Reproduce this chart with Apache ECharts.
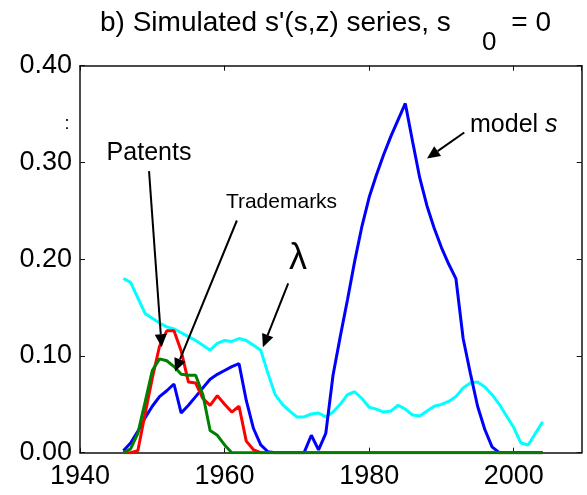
<!DOCTYPE html>
<html>
<head>
<meta charset="utf-8">
<script src="https://cdn.jsdelivr.net/npm/echarts@6/dist/echarts.min.js"></script>
<style>
    html, body { margin: 0; padding: 0; background: #fff; }
    #chart { width: 587px; height: 495px; }
</style>
</head>
<body>
<div id="chart"></div>
<script>
const years = [1946, 1947, 1948, 1949, 1950, 1951, 1952, 1953, 1954, 1955,
    1956, 1957, 1958, 1959, 1960, 1961, 1962, 1963, 1964, 1965,
    1966, 1967, 1968, 1969, 1970, 1971, 1972, 1973, 1974, 1975,
    1976, 1977, 1978, 1979, 1980, 1981, 1982, 1983, 1984, 1985,
    1986, 1987, 1988, 1989, 1990, 1991, 1992, 1993, 1994, 1995,
    1996, 1997, 1998, 1999, 2000, 2001, 2002, 2003, 2004];

// lambda
const lambdaVals = [0.180, 0.176, 0.160, 0.144, 0.139, 0.134, 0.130, 0.128, 0.124, 0.120,
    0.116, 0.111, 0.106, 0.113, 0.116, 0.115, 0.118, 0.116, 0.111, 0.106,
    0.082, 0.060, 0.050, 0.043, 0.037, 0.037, 0.040, 0.041, 0.037, 0.042,
    0.050, 0.060, 0.063, 0.056, 0.047, 0.045, 0.042, 0.043, 0.049, 0.045,
    0.039, 0.038, 0.043, 0.048, 0.050, 0.053, 0.058, 0.067, 0.072, 0.073,
    0.068, 0.060, 0.050, 0.038, 0.026, 0.010, 0.008, 0.020, 0.032];

// model s
const modelVals = [0.002, 0.010, 0.022, 0.036, 0.048, 0.058, 0.064, 0.071, 0.041, 0.049,
    0.058, 0.067, 0.076, 0.081, 0.085, 0.089, 0.092, 0.054, 0.025, 0.008,
    0.001, 0, 0, 0, 0, 0, 0.018, 0.003, 0.020, 0.080,
    0.120, 0.158, 0.198, 0.234, 0.264, 0.287, 0.308, 0.327, 0.344, 0.361,
    0.322, 0.284, 0.255, 0.232, 0.212, 0.195, 0.180, 0.118, 0.082, 0.048,
    0.024, 0.006, 0, 0, 0, 0, 0, 0, 0];

const patentVals = [0, 0, 0.002, 0.040, 0.077, 0.110, 0.126, 0.126, 0.105, 0.073,
    0.072, 0.056, 0.049, 0.059, 0.050, 0.042, 0.048, 0.012, 0.003, 0,
    0, 0, 0, 0, 0, 0, 0, 0, 0, 0,
    0, 0, 0, 0, 0, 0, 0, 0, 0, 0,
    0, 0, 0, 0, 0, 0, 0, 0, 0, 0,
    0, 0, 0, 0, 0, 0, 0, 0, 0];

const trademarkVals = [0, 0.004, 0.020, 0.052, 0.085, 0.097, 0.095, 0.089, 0.081, 0.080,
    0.080, 0.060, 0.023, 0.018, 0.008, 0, 0, 0, 0, 0,
    0, 0, 0, 0, 0, 0, 0, 0, 0, 0,
    0, 0, 0, 0, 0, 0, 0, 0, 0, 0,
    0, 0, 0, 0, 0, 0, 0, 0, 0, 0,
    0, 0, 0, 0, 0, 0, 0, 0, 0];

// arrows, in data coordinates: [year, value]
const arrows = [
    { from: [1949.55, 0.291], to: [1951.3, 0.109] },   // Patents
    { from: [1961.7, 0.240], to: [1953.15, 0.084] },   // Trademarks
    { from: [1968.8, 0.175], to: [1965.3, 0.109] },    // lambda
    { from: [1993.15, 0.331], to: [1988.0, 0.304] }    // model s
];

const font = "'Liberation Sans', Arial, sans-serif";
const myChart = echarts.init(document.getElementById('chart'), null, { renderer: 'canvas' });

function pairs(vals) {
    return years.map((y, i) => [y, vals[i]]);
}

function lineSeries(name, vals, color) {
    return {
        name: name,
        type: 'line',
        data: pairs(vals),
        showSymbol: false,
        symbol: 'none',
        lineStyle: { color: color, width: 3 },
        itemStyle: { color: color },
        animation: false
    };
}

const frameLine = { show: true, onZero: false, lineStyle: { color: '#111', width: 1.5 } };
const tickIn = { show: true, inside: true, length: 5, lineStyle: { color: '#111', width: 1 } };

myChart.setOption({
    backgroundColor: '#fff',
    animation: false,
    grid: { left: 80, right: 5.3, top: 65.7, bottom: 42.3 },
    xAxis: [
        {
            type: 'value', min: 1940, max: 2009.4, interval: 20, position: 'bottom',
            axisLine: frameLine, axisTick: tickIn, splitLine: { show: false },
            axisLabel: {
                fontSize: 27, fontFamily: font, color: '#000', margin: 10,
                showMaxLabel: false,
                formatter: v => (v % 20 === 0 ? String(v) : '')
            }
        },
        {
            type: 'value', min: 1940, max: 2009.4, interval: 20, position: 'top',
            axisLine: frameLine, axisTick: tickIn, splitLine: { show: false },
            axisLabel: { show: false }
        }
    ],
    yAxis: [
        {
            type: 'value', min: 0, max: 0.4, interval: 0.1, position: 'left',
            axisLine: frameLine, axisTick: tickIn, splitLine: { show: false },
            axisLabel: {
                fontSize: 27, fontFamily: font, color: '#000', margin: 8,
                formatter: v => v.toFixed(2)
            }
        },
        {
            type: 'value', min: 0, max: 0.4, interval: 0.1, position: 'right',
            axisLine: frameLine, axisTick: tickIn, splitLine: { show: false },
            axisLabel: { show: false }
        }
    ],
    series: [
        lineSeries('lambda', lambdaVals, '#00ffff'),
        lineSeries('model s', modelVals, '#0000ff'),
        lineSeries('Patents', patentVals, '#ff0000'),
        lineSeries('Trademarks', trademarkVals, '#008000')
    ]
});

// annotations, drawn after the axes are known
const graphics = [
    { type: 'text', x: 100, y: 23, style: { text: "b) Simulated s'(s,z) series, s", font: '28px ' + font, fill: '#000', verticalAlign: 'middle' } },
    { type: 'text', x: 482, y: 43, style: { text: '0', font: '26px ' + font, fill: '#000', verticalAlign: 'middle' } },
    { type: 'text', x: 551, y: 23, style: { text: '= 0', font: '28px ' + font, fill: '#000', align: 'right', verticalAlign: 'middle' } },
    { type: 'text', x: 67, y: 124, style: { text: ':', font: '18px ' + font, fill: '#000', align: 'center', verticalAlign: 'middle' } },
    { type: 'text', x: 149, y: 153, style: { text: 'Patents', font: '25px ' + font, fill: '#000', align: 'center', verticalAlign: 'middle' } },
    { type: 'text', x: 281.5, y: 202, style: { text: 'Trademarks', font: '21px ' + font, fill: '#000', align: 'center', verticalAlign: 'middle' } },
    { type: 'text', x: 298, y: 259, style: { text: 'λ', font: '36px ' + font, fill: '#000', align: 'center', verticalAlign: 'middle' } },
    {
        type: 'text', x: 470, y: 125,
        style: {
            text: '{r|model }{i|s}',
            verticalAlign: 'middle',
            rich: {
                r: { font: '25px ' + font, fill: '#000' },
                i: { font: 'italic 25px ' + font, fill: '#000' }
            }
        }
    }
];

arrows.forEach(a => {
    const s = myChart.convertToPixel({ gridIndex: 0 }, a.from);
    const t = myChart.convertToPixel({ gridIndex: 0 }, a.to);
    const dx = t[0] - s[0], dy = t[1] - s[1];
    const len = Math.sqrt(dx * dx + dy * dy);
    const ux = dx / len, uy = dy / len;
    const headLen = 13, headHalf = 6;
    const bx = t[0] - ux * headLen, by = t[1] - uy * headLen;
    graphics.push({
        type: 'line',
        shape: { x1: s[0], y1: s[1], x2: bx, y2: by },
        style: { stroke: '#000', lineWidth: 2 },
        z: 10
    });
    graphics.push({
        type: 'polygon',
        shape: { points: [[t[0], t[1]], [bx - uy * headHalf, by + ux * headHalf], [bx + uy * headHalf, by - ux * headHalf]] },
        style: { fill: '#000' },
        z: 10
    });
});

myChart.setOption({ graphic: graphics });
</script>
</body>
</html>
